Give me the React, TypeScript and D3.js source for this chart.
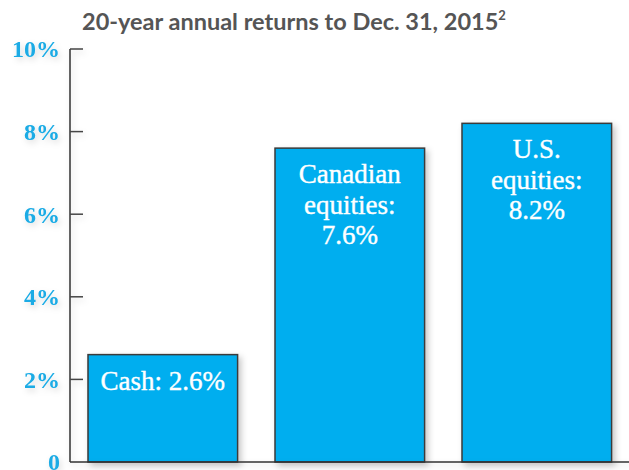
import React from "react";
import * as d3 from "d3";

const categories = ["Cash", "Canadian equities", "U.S. equities"];
const values = [2.6, 7.6, 8.2];
const barLabels = [["Cash: 2.6%"], ["Canadian", "equities:", "7.6%"], ["U.S.", "equities:", "8.2%"]];
const tickValues = [0, 2, 4, 6, 8, 10];
const tickLabels = ["0", "2%", "4%", "6%", "8%", "10%"];
const title = "20-year annual returns to Dec. 31, 2015";

const W = 629;
const H = 470;
const axisX = 70;

export default function App() {
  const y = d3.scaleLinear().domain([0, 10]).range([462, 49]);
  const x = d3
    .scaleBand<string>()
    .domain(categories)
    .range([69.3, 630.3])
    .paddingInner(0.2)
    .paddingOuter(0.1);
  const blue = "#00AEEF";
  const labelBlue = "#1AABE5";
  return (
    <svg
      width={W}
      height={H}
      style={{ position: "absolute", left: 0, top: 0, background: "#fff" }}
    >
      <defs>
        <filter id="sh" x="-20%" y="-20%" width="150%" height="150%">
          <feDropShadow dx="3" dy="3" stdDeviation="3" floodColor="#000" floodOpacity="0.22" />
        </filter>
        <filter id="tsh" x="-30%" y="-30%" width="160%" height="160%">
          <feDropShadow dx="2" dy="3" stdDeviation="3" floodColor="#000" floodOpacity="0.15" />
        </filter>
      </defs>
      <text
        x={82}
        y={30}
        fontFamily="Lato, 'Open Sans', sans-serif"
        fontWeight={700}
        fontSize={23.5}
        fill="#555"
      >
        {title}
        <tspan fontSize={13} dy={-10}>2</tspan>
      </text>
      <g filter="url(#sh)">
        {categories.map((c, i) => (
          <rect
            key={c}
            x={x(c)}
            y={y(values[i])}
            width={x.bandwidth()}
            height={y(0) - y(values[i])}
            fill={blue}
            stroke="#3a3a3a"
            strokeWidth={1.5}
          />
        ))}
      </g>
      <g filter="url(#tsh)">
        <line x1={axisX} x2={axisX} y1={y(10)} y2={y(0)} stroke="#333" strokeWidth={1.5} />
        <line x1={axisX} x2={W} y1={y(0)} y2={y(0)} stroke="#333" strokeWidth={1.5} />
        {tickValues.map((t, i) => (
          <g key={t}>
            {t > 0 && (
              <line x1={axisX} x2={axisX + 13} y1={y(t)} y2={y(t)} stroke="#444" strokeWidth={1.5} />
            )}
            <text
              x={60}
              y={y(t)}
              dy="0.35em"
              textAnchor="end"
              fontFamily="'Liberation Serif', serif"
              fontWeight={700}
              fontSize={24}
              fill={labelBlue}
            >
              {tickLabels[i]}
            </text>
          </g>
        ))}
      </g>
      {categories.map((c, i) => (
        <text
          key={c}
          x={(x(c) as number) + x.bandwidth() / 2}
          y={y(values[i]) + 35}
          textAnchor="middle"
          fontFamily="'Liberation Serif', serif"
          fontSize={27}
          fill="#fff"
          stroke="#fff"
          strokeWidth={0.4}
        >
          {barLabels[i].map((l, j) => (
            <tspan key={j} x={(x(c) as number) + x.bandwidth() / 2} dy={j === 0 ? 0 : 30.5}>
              {l}
            </tspan>
          ))}
        </text>
      ))}
    </svg>
  );
}
